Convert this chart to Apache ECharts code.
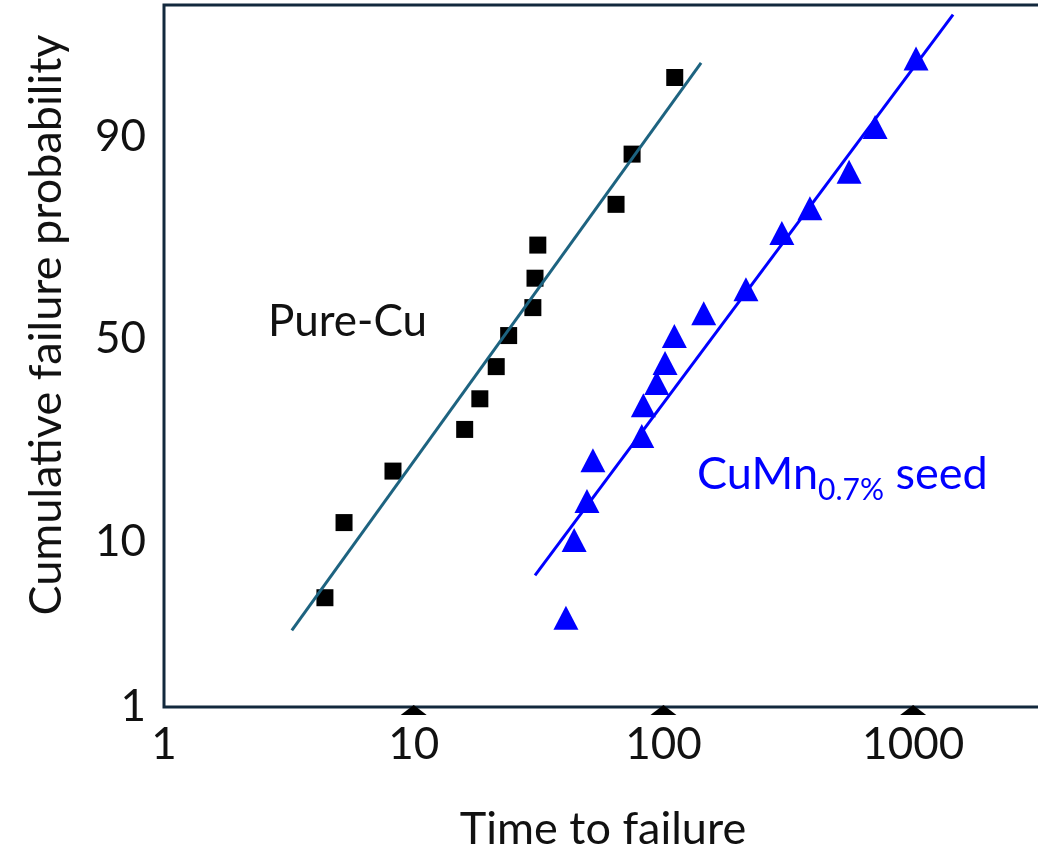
<!DOCTYPE html>
<html>
<head>
<meta charset="utf-8">
<script src="https://cdn.jsdelivr.net/npm/echarts@6/dist/echarts.min.js"></script>
<style>
  html, body { margin: 0; padding: 0; background: #fff; }
  #main { width: 1038px; height: 851px; }
</style>
</head>
<body>
<div id="main"></div>
<script>
// Pure-Cu samples: time to failure and cumulative failure probability (%)
const pureTime = [4.41, 5.26, 8.26, 16.0, 18.4, 21.4, 24.0, 30.0, 30.6, 31.4, 64.6, 74.9, 111];
const pureProb = [5.1, 12.3, 20.2, 28.4, 35.3, 43.1, 50.9, 57.9, 65.0, 72.4, 80.3, 87.9, 95.1];
// CuMn 0.7% seed samples
const cumnTime = [40.7, 43.9, 49.4, 52.2, 81.9, 83.1, 94.0, 101.5, 110.6, 145, 214, 298, 386, 554, 704, 1027];
const cumnProb = [3.9, 10.2, 15.3, 22.2, 27.0, 33.8, 39.1, 44.0, 50.8, 56.5, 62.4, 74.9, 79.6, 85.5, 91.0, 96.2];
// fitted lines (two end points each)
const pureFitTime = [3.25, 141.5];
const pureFitProb = [3.27, 95.97];
const cumnFitTime = [30.6, 1445];
const cumnFitProb = [6.76, 97.99];
// axis ticks
const xTicks = [1, 10, 100, 1000];
const yTicks = [1, 10, 50, 90];
const yMinPct = 1, yMaxPct = 98.27;
const xMin = 1, xMax = 3281;

// inverse normal cdf (probability paper scale)
function probit(p) {
  const a = [-3.969683028665376e+01, 2.209460984245205e+02, -2.759285104469687e+02, 1.383577518672690e+02, -3.066479806614716e+01, 2.506628277459239e+00];
  const b = [-5.447609879822406e+01, 1.615858368580409e+02, -1.556989798598866e+02, 6.680131188771972e+01, -1.328068155288572e+01];
  const c = [-7.784894002430293e-03, -3.223964580411365e-01, -2.400758277161838e+00, -2.549732539343734e+00, 4.374664141464968e+00, 2.938163982698783e+00];
  const d = [7.784695709041462e-03, 3.224671290700398e-01, 2.445134137142996e+00, 3.754408661907416e+00];
  const pl = 0.02425, ph = 1 - pl;
  let q, r;
  if (p < pl) {
    q = Math.sqrt(-2 * Math.log(p));
    return (((((c[0]*q+c[1])*q+c[2])*q+c[3])*q+c[4])*q+c[5]) / ((((d[0]*q+d[1])*q+d[2])*q+d[3])*q+1);
  }
  if (p > ph) {
    q = Math.sqrt(-2 * Math.log(1 - p));
    return -(((((c[0]*q+c[1])*q+c[2])*q+c[3])*q+c[4])*q+c[5]) / ((((d[0]*q+d[1])*q+d[2])*q+d[3])*q+1);
  }
  q = p - 0.5; r = q * q;
  return (((((a[0]*r+a[1])*r+a[2])*r+a[3])*r+a[4])*r+a[5])*q / (((((b[0]*r+b[1])*r+b[2])*r+b[3])*r+b[4])*r+1);
}
const z = pct => probit(pct / 100);
const pairs = (xs, ys) => xs.map((x, i) => [x, z(ys[i])]);

const FONT = 'Lato';
const yTickZ = yTicks.map(z);

const chart = echarts.init(document.getElementById('main'));
chart.setOption({
  animation: false,
  grid: {
    left: 164, top: 5, right: -4, bottom: 144,
    show: true, borderColor: '#13293d', borderWidth: 3,
    outerBoundsMode: 'none'
  },
  xAxis: {
    type: 'log', logBase: 10, min: xMin, max: xMax,
    name: 'Time to failure', nameLocation: 'middle', nameGap: 100,
    nameTextStyle: { fontFamily: FONT, fontSize: 45, lineHeight: 45, color: '#111' },
    axisLine: { show: false },
    axisTick: { show: false },
    splitLine: { show: false },
    axisLabel: {
      fontFamily: FONT, fontSize: 44, color: '#111', margin: 16,
      showMaxLabel: false,
      formatter: v => xTicks.some(t => Math.abs(t - v) / t < 1e-6) ? String(Math.round(v)) : ''
    }
  },
  yAxis: {
    type: 'value', min: z(yMinPct), max: z(yMaxPct),
    name: 'Cumulative failure probability', nameLocation: 'middle', nameGap: 95,
    nameTextStyle: { fontFamily: FONT, fontSize: 45, lineHeight: 45, color: '#111', padding: [0, 0, 0, 62] },
    axisLine: { show: false },
    axisTick: { show: false },
    splitLine: { show: false },
    axisLabel: {
      fontFamily: FONT, fontSize: 44, color: '#111', margin: 18,
      customValues: yTickZ,
      formatter: v => {
        let best = 0;
        yTickZ.forEach((t, i) => { if (Math.abs(t - v) < Math.abs(yTickZ[best] - v)) best = i; });
        return String(yTicks[best]);
      }
    }
  },
  graphic: [
    {
      type: 'text', left: 268, top: 300,
      style: { text: 'Pure-Cu', fontFamily: FONT, fontSize: 44, lineHeight: 44, fill: '#111' }
    },
    {
      type: 'text', left: 697, top: 452,
      style: {
        text: '{m|CuMn}{s|0.7%}{m| seed}',
        rich: {
          m: { fontFamily: FONT, fontSize: 45, fill: '#0000ff', verticalAlign: 'top', lineHeight: 48 },
          s: { fontFamily: FONT, fontSize: 30, fill: '#0000ff', verticalAlign: 'top', lineHeight: 30, padding: [23, 0, 0, 0] }
        }
      }
    }
  ],
  series: [
    {
      name: 'x ticks', type: 'scatter', silent: true, clip: false, z: 4,
      symbol: 'triangle', symbolSize: [26, 10], symbolOffset: [0, 3],
      itemStyle: { color: '#000', opacity: 1 },
      data: xTicks.slice(1).map(t => [t, z(yMinPct)])
    },
    {
      name: 'Pure-Cu fit', type: 'line', symbol: 'none',
      lineStyle: { color: '#1d6380', width: 3 },
      data: pairs(pureFitTime, pureFitProb)
    },
    {
      name: 'CuMn fit', type: 'line', symbol: 'none',
      lineStyle: { color: '#0000ff', width: 3 },
      data: pairs(cumnFitTime, cumnFitProb)
    },
    {
      name: 'Pure-Cu', type: 'scatter', symbol: 'rect', symbolSize: 17,
      itemStyle: { color: '#000', opacity: 1 },
      data: pairs(pureTime, pureProb)
    },
    {
      name: 'CuMn0.7% seed', type: 'scatter', symbol: 'triangle', symbolSize: [25, 24],
      itemStyle: { color: '#0000ff', opacity: 1 },
      data: pairs(cumnTime, cumnProb)
    }
  ]
});
</script>
</body>
</html>
